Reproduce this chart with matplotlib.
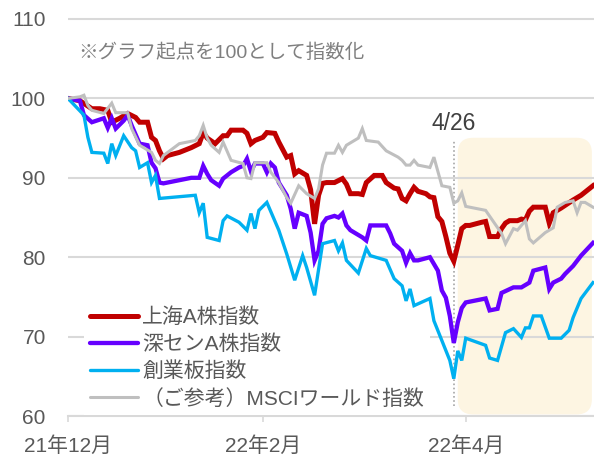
import matplotlib
matplotlib.use('Agg')
import matplotlib.pyplot as plt
from matplotlib.patches import FancyBboxPatch

plt.rcParams['font.family'] = ['Liberation Sans', 'Noto Sans CJK JP', 'DejaVu Sans']

# --- Data (trading-day index, index value; start = 100) ---
red_x = [0, 3, 6, 8, 10, 11, 13, 15, 17, 18, 20, 21, 22, 23, 24, 25, 28, 31, 33, 34, 35, 37, 39,
         40, 41, 44, 45, 46, 47, 49, 50, 52, 53, 55, 56, 57, 58, 60, 61, 62, 63, 64, 65, 67, 69,
         70, 71, 73, 74, 75, 77, 79, 80, 82, 83, 84, 85, 86, 87, 88, 90, 91, 92, 93, 94, 95, 96,
         97, 98, 99, 100, 101, 104, 105, 106, 108, 109, 110, 111, 113, 114, 115, 116, 117, 120,
         121, 122, 124, 127, 129, 132]
red_y = [100.0, 99.7, 98.7, 98.7, 98.5, 97.0, 97.5, 98.1, 97.6, 97.0, 97.0, 95.1, 94.7, 93.4, 92.4,
         92.8, 93.2, 93.8, 94.3, 95.7, 95.0, 94.3, 95.3, 95.3, 96.0, 96.0, 95.6, 94.3, 94.7, 95.1,
         95.7, 95.6, 94.5, 92.6, 92.8, 90.5, 90.9, 90.3, 88.5, 84.2, 87.8, 89.3, 89.4, 89.4, 89.9,
         89.2, 88.0, 88.0, 87.9, 89.4, 90.3, 90.3, 89.4, 88.7, 88.6, 87.4, 87.1, 88.0, 88.8, 88.3,
         88.0, 87.6, 87.5, 85.1, 84.5, 82.6, 80.5, 79.5, 81.5, 83.6, 84.0, 84.0, 84.4, 84.5, 82.6,
         82.6, 83.6, 84.3, 84.6, 84.6, 84.8, 84.7, 85.8, 86.3, 86.3, 84.3, 85.6, 86.2, 87.2, 87.8,
         89.0]

purple_x = [0, 3, 4, 6, 9, 10, 11, 12, 14, 15, 16, 18, 20, 21, 22, 23, 24, 28, 31, 33, 34, 35, 36,
            38, 39, 41, 43, 44, 45, 46, 47, 49, 50, 51, 52, 53, 55, 56, 57, 58, 60, 61, 62, 63, 64,
            65, 67, 68, 69, 70, 71, 74, 75, 76, 77, 80, 81, 82, 84, 85, 86, 87, 88, 91, 93, 94, 95,
            96, 97, 98, 99, 100, 105, 106, 108, 109, 112, 114, 116, 117, 120, 121, 122, 124, 125,
            127, 129, 132]
purple_y = [100.0, 99.7, 97.9, 97.0, 97.5, 96.3, 97.5, 96.2, 97.2, 97.9, 96.6, 94.3, 94.1, 91.9,
            91.2, 89.4, 89.3, 89.7, 90.0, 90.0, 91.5, 90.5, 89.7, 89.0, 89.9, 90.7, 91.3, 91.5,
            92.4, 90.8, 91.8, 91.8, 90.7, 91.8, 91.3, 89.4, 87.8, 86.1, 83.6, 85.6, 85.2, 83.1,
            79.6, 80.8, 84.2, 84.9, 85.2, 85.0, 85.5, 84.0, 83.4, 82.5, 82.1, 84.0, 84.0, 84.0,
            83.0, 81.7, 80.8, 79.3, 80.5, 79.6, 79.6, 80.0, 78.3, 75.8, 74.9, 72.6, 69.2, 71.8,
            73.6, 74.3, 74.8, 73.3, 73.5, 75.5, 76.2, 76.2, 76.8, 78.3, 78.7, 76.0, 76.8, 77.3,
            77.9, 78.9, 80.2, 81.8]

cyan_x = [0, 4, 5, 6, 9, 10, 11, 12, 14, 16, 17, 18, 20, 21, 22, 23, 32, 33, 34, 35, 38, 39, 40,
          43, 45, 46, 47, 48, 50, 53, 55, 57, 59, 60, 62, 64, 67, 68, 69, 70, 73, 75, 76, 80, 82,
          84, 85, 86, 87, 91, 92, 94, 96, 97, 98, 99, 100, 105, 106, 108, 110, 112, 114, 115, 116,
          117, 119, 121, 124, 126, 127, 129, 132]
cyan_y = [100.0, 97.9, 95.1, 93.2, 93.1, 91.8, 94.3, 92.8, 95.3, 93.8, 93.4, 91.3, 91.9, 89.4, 90.3,
          87.4, 87.8, 85.6, 86.8, 82.5, 82.1, 84.6, 85.2, 84.4, 83.4, 85.5, 83.6, 85.9, 86.9, 83.4,
          80.4, 77.1, 80.2, 78.7, 75.2, 81.7, 82.1, 80.8, 81.8, 79.6, 78.0, 81.1, 80.2, 79.6, 77.3,
          76.4, 74.5, 76.0, 73.9, 74.8, 72.0, 69.5, 67.0, 64.7, 68.2, 67.0, 69.8, 68.9, 67.3, 67.0,
          70.5, 71.0, 69.9, 71.1, 71.1, 72.6, 72.6, 69.8, 69.8, 70.8, 72.4, 74.8, 76.8]

grey_x = [0, 3, 4, 5, 6, 9, 11, 12, 15, 16, 18, 21, 22, 23, 24, 28, 32, 33, 34, 35, 36, 38, 39, 41,
          44, 45, 46, 47, 50, 51, 53, 55, 56, 58, 60, 62, 63, 64, 65, 67, 68, 69, 70, 72, 73, 74,
          75, 78, 80, 83, 84, 85, 86, 87, 88, 91, 92, 94, 96, 97, 98, 99, 100, 105, 109, 110, 112,
          113, 115, 116, 117, 120, 122, 123, 125, 127, 128, 129, 130, 132]
grey_y = [100.0, 100.2, 100.4, 99.1, 98.5, 98.1, 99.4, 98.2, 98.2, 96.2, 94.1, 93.2, 92.2, 91.8,
          92.8, 94.3, 94.7, 95.3, 96.6, 95.0, 94.1, 93.2, 94.5, 92.2, 91.8, 90.0, 89.9, 91.9, 91.9,
          90.7, 89.4, 87.5, 86.8, 89.0, 88.0, 87.4, 88.6, 91.6, 93.1, 93.1, 94.1, 93.2, 94.1, 94.7,
          95.0, 96.2, 94.7, 94.5, 93.4, 92.6, 92.2, 91.6, 91.6, 92.2, 91.6, 91.3, 92.6, 89.0, 88.8,
          86.8, 87.1, 88.1, 86.4, 85.9, 83.0, 81.7, 83.6, 83.4, 84.6, 82.3, 81.8, 83.1, 83.7, 86.3,
          86.9, 87.1, 85.6, 86.9, 86.9, 86.3]

series_labels = ['上海A株指数', '深センA株指数', '創業板指数', '（ご参考）MSCIワールド指数']
series_colors = ['#C00000', '#6600FF', '#00B0F0', '#BFBFBF']
series_widths = [3.6, 3.1, 2.4, 2.2]

tick_pos = [0, 49, 100]
tick_labels = ['21年12月', '22年2月', '22年4月']
event_idx = 97
event_label = '4/26'

# --- Figure ---
W, H = 594, 455
Y_LO, Y_HI = 60, 110.2
px_per_unit = 7.94
ax_h = (Y_HI - Y_LO) * px_per_unit
fig = plt.figure(figsize=(W / 100, H / 100), dpi=100)
ax = fig.add_axes([68 / W, (H - 416) / H, 526 / W, ax_h / H])

series = [(red_x, red_y), (purple_x, purple_y), (cyan_x, cyan_y), (grey_x, grey_y)]
for (xs, ys), lab, col, lw in zip(series, series_labels, series_colors, series_widths):
    ax.plot(xs, ys, color=col, lw=lw, label=lab, solid_joinstyle='miter', zorder=3)

ax.set_xlim(0, 132.25)
ax.set_ylim(Y_LO, Y_HI)
ax.set_yticks(range(60, 111, 10))
ax.set_xticks(tick_pos)
ax.set_xticklabels(tick_labels)

ax.set_axisbelow(True)
ax.yaxis.grid(True, color='#D9D9D9', lw=1.5)
for s in ['top', 'right', 'left']:
    ax.spines[s].set_visible(False)
ax.spines['bottom'].set_color('#D9D9D9')
ax.spines['bottom'].set_linewidth(1.5)
ax.tick_params(axis='y', length=0, pad=16, labelsize=15, labelcolor='#595959')
ax.tick_params(axis='x', length=4.5, width=1.2, color='#D9D9D9', pad=10,
               labelsize=15, labelcolor='#595959')

# shaded period after 4/26
aspect = 526 / ax_h
box = FancyBboxPatch((0.741, 0.004), 0.259 - 0.004, 0.694,
                     boxstyle='round,pad=0,rounding_size=0.029',
                     mutation_aspect=aspect, transform=ax.transAxes,
                     facecolor='#FDF5E2', edgecolor='none', zorder=0.2)
ax.add_patch(box)

ax.vlines(event_idx, 61.3, 94.7, colors='#A6A6A6', linestyles=(0, (1, 1.5)), lw=1.2, zorder=2)
ax.text(event_idx, 96.8, event_label, ha='center', va='center', fontsize=16.5, color='#404040')

ax.text(2.5, 105.8, '※グラフ起点を100として指数化', ha='left', va='center',
        fontsize=14, color='#7F7F7F')

leg = ax.legend(loc='upper left', bbox_to_anchor=(84 / W, 1 - 301 / H),
                bbox_transform=fig.transFigure, frameon=True, fancybox=False,
                fontsize=15, handlelength=2.3, handletextpad=0.2, labelspacing=0.36,
                borderpad=0.3, borderaxespad=0)
leg.get_frame().set_facecolor('white')
leg.get_frame().set_edgecolor('none')
leg.get_frame().set_alpha(1)
for t in leg.get_texts():
    t.set_color('#595959')
for h in leg.get_lines():
    h.set_solid_capstyle('round')
# legend box hides the gridline but sits under the data lines
leg.set_zorder(2.5)

fig.savefig('out.png', dpi=100)
